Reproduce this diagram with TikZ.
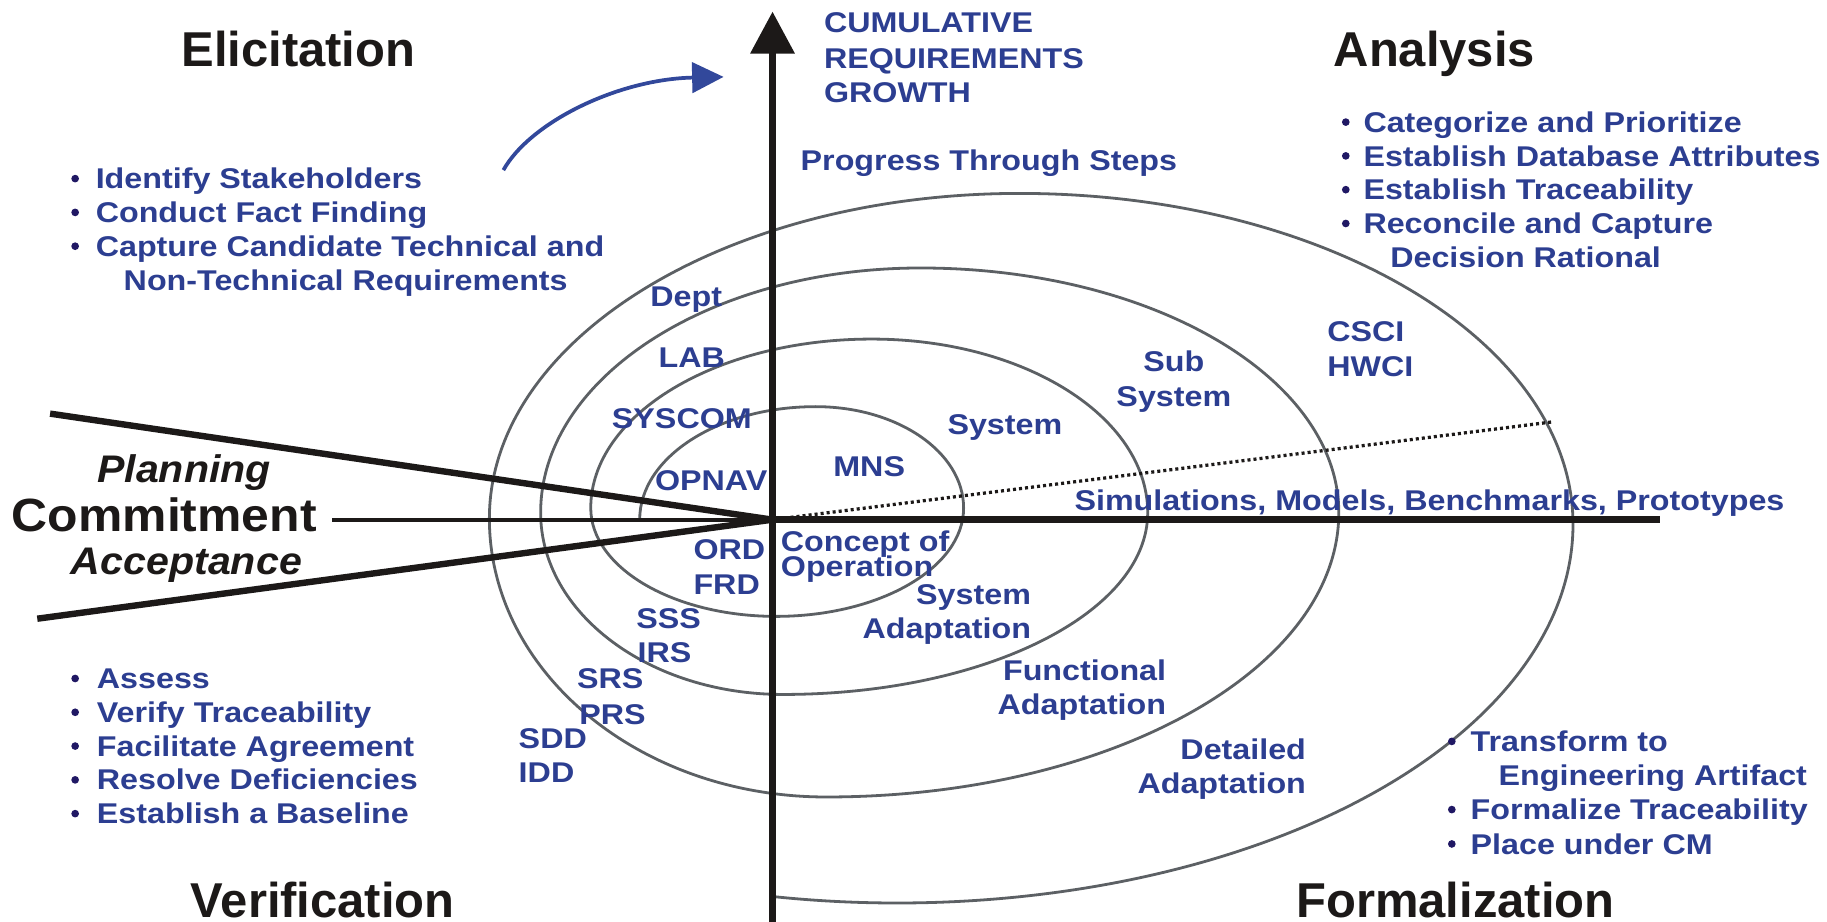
\documentclass[tikz,border=0pt]{standalone}
\usepackage{fontspec}
\setmainfont{Liberation Sans}
\newfontfamily\widesans{Liberation Sans}[FakeStretch=1.13]
\newfontfamily\semiwide{Liberation Sans}[FakeStretch=1.07]
\usetikzlibrary{arrows.meta}

\definecolor{txtblue}{RGB}{44,62,145}
\definecolor{dotblue}{RGB}{32,24,100}
\definecolor{ink}{RGB}{28,25,24}
\definecolor{curvegray}{RGB}{92,96,100}
\definecolor{arrblue}{RGB}{50,72,155}

\tikzset{
  bt/.style={text=txtblue, font=\widesans\bfseries\fontsize{24.5}{29}\selectfont,
             inner sep=0pt, anchor=base west},
  btr/.style={bt, anchor=base east},
  hdr/.style={text=ink, font=\bfseries\fontsize{42}{48}\selectfont,
              inner sep=0pt, anchor=base},
  side/.style={text=ink, font=\semiwide\bfseries\itshape\fontsize{33}{38}\selectfont,
               inner sep=0pt, anchor=base},
  bigside/.style={text=ink, font=\semiwide\bfseries\fontsize{40}{46}\selectfont,
                  inner sep=0pt, anchor=base west},
  spiral/.style={draw=curvegray, line width=2.4pt},
  axis/.style={draw=ink, line width=5.5pt},
  thinaxis/.style={draw=ink, line width=3.5pt},
  trend/.style={draw=ink, line width=2.8pt, dash pattern=on 2.6pt off 2.6pt},
  bullet/.style={fill=dotblue},
  growth/.style={draw=arrblue, line width=3.2pt, -{Triangle[length=27pt,width=26pt]}}
}

\begin{document}
\begin{tikzpicture}[x=1pt,y=-1pt]
\useasboundingbox (0,0) rectangle (1568,791);
\fill[white] (0,0) rectangle (1568,791);

% key points of the axes
\coordinate (ctr) at (663,446);
\coordinate (ytop) at (663,10);
\coordinate (ybot) at (663,791);
\coordinate (xleft) at (285,446);
\coordinate (xright) at (1425,446);
\coordinate (upleft) at (43,355);
\coordinate (lowleft) at (32,531);
\coordinate (trendend) at (1333,362);
\coordinate (arrS) at (432,146);
\coordinate (arrE) at (621,66);

% the growth spiral, one quarter ellipse after another
\draw[spiral] (549,446)
  arc[start angle=180, end angle=270, x radius=151, y radius=97]
  arc[start angle=270, end angle=360, x radius=127, y radius=87]
  arc[start angle=0,   end angle=90,  x radius=161, y radius=93]
  arc[start angle=90,  end angle=180, x radius=159, y radius=93]
  arc[start angle=180, end angle=270, x radius=241, y radius=145]
  arc[start angle=270, end angle=360, x radius=237, y radius=149]
  arc[start angle=0,   end angle=90,  x radius=313, y radius=156]
  arc[start angle=90,  end angle=180, x radius=208, y radius=156]
  arc[start angle=180, end angle=270, x radius=326, y radius=210]
  arc[start angle=270, end angle=360, x radius=359, y radius=210]
  arc[start angle=0,   end angle=90,  x radius=440, y radius=244]
  arc[start angle=90,  end angle=180, x radius=289, y radius=239]
  arc[start angle=180, end angle=270, x radius=455, y radius=279]
  arc[start angle=270, end angle=360, x radius=475, y radius=284]
  arc[start angle=0,   end angle=100.6, x radius=580, y radius=325];

% axes and wedge
\draw[trend] (ctr) -- (trendend);
\draw[thinaxis] (xleft) -- (ctr);
\draw[axis] (ctr) -- (xright);
\draw[axis] (upleft) -- (ctr);
\draw[axis] (lowleft) -- (ctr);
\draw[axis, -{Triangle[length=36pt,width=37pt]}] (ybot) -- (ytop);

% curved growth arrow
\draw[growth] (arrS) .. controls (455,105) and (530,68) .. (arrE);

% quadrant titles
\node[hdr] (elic) at (256,57) {Elicitation};
\node[hdr] (anal) at (1231,57) {Analysis};
\node[hdr] (verif) at (277,787) {Verification};
\node[hdr] (formal) at (1249,787) {Formalization};

% left-hand labels
\node[side] (plan) at (158,414) {Planning};
\node[bigside] (commit) at (10,456) {Commitment};
\node[side] (accept) at (160,493) {Acceptance};

% vertical axis caption
\node[bt] (cum1) at (707,28) {CUMULATIVE};
\node[bt] (cum2) at (707,58.5) {REQUIREMENTS};
\node[bt] (cum3) at (707,88) {GROWTH};
\node[bt] (prog) at (687,146) {Progress Through Steps};

% elicitation activities
\foreach \y in {162,191,220} \fill[bullet] (64.5,\y-8.7) circle (3.3);
\node[bt] (e1) at (82,162) {Identify Stakeholders};
\node[bt] (e2) at (82,191) {Conduct Fact Finding};
\node[bt] (e3) at (82,220) {Capture Candidate Technical and};
\node[bt] (e4) at (106,249) {Non-Technical Requirements};

% analysis activities
\foreach \y in {113.5,142.5,171.5,200.5} \fill[bullet] (1155,\y-8.7) circle (3.3);
\node[bt] (a1) at (1170,113.5) {Categorize and Prioritize};
\node[bt] (a2) at (1170,142.5) {Establish Database Attributes};
\node[bt] (a3) at (1170,171.5) {Establish Traceability};
\node[bt] (a4) at (1170,200.5) {Reconcile and Capture};
\node[bt] (a5) at (1193,229.5) {Decision Rational};

% verification activities
\foreach \y in {591,620,649,678,707} \fill[bullet] (64.5,\y-8.7) circle (3.3);
\node[bt] (v1) at (83,591) {Assess};
\node[bt] (v2) at (83,620) {Verify Traceability};
\node[bt] (v3) at (83,649) {Facilitate Agreement};
\node[bt] (v4) at (83,678) {Resolve Deficiencies};
\node[bt] (v5) at (83,707) {Establish a Baseline};

% formalization activities
\foreach \y in {645,703.5,733} \fill[bullet] (1246,\y-8.7) circle (3.3);
\node[bt] (f1) at (1262,645) {Transform to};
\node[bt] (f2) at (1286,674.5) {Engineering Artifact};
\node[bt] (f3) at (1262,703.5) {Formalize Traceability};
\node[bt] (f4) at (1262,733) {Place under CM};

% labels along the spiral
\node[bt] (dept) at (558,263) {Dept};
\node[bt] (lab) at (565,315) {LAB};
\node[bt] (syscom) at (525,368) {SYSCOM};
\node[bt] (opnav) at (562,421) {OPNAV};
\node[bt] (mns) at (715,409) {MNS};
\node[bt] (sys1) at (813,373) {System};
\node[bt] (conc1) at (670,473.5) {Concept of};
\node[bt] (conc2) at (670,495) {Operation};
\node[bt] (ord) at (595,480) {ORD};
\node[bt] (frd) at (595,510) {FRD};
\node[bt] (sss) at (546,539) {SSS};
\node[bt] (irs) at (547,569) {IRS};
\node[bt] (srs) at (495,591) {SRS};
\node[bt] (prs) at (497,621.5) {PRS};
\node[bt] (sdd) at (445,642) {SDD};
\node[bt] (idd) at (445,671.5) {IDD};
\node[bt] (sub1) at (981,319) {Sub};
\node[bt] (sub2) at (958,348.5) {System};
\node[bt] (csci) at (1139,293) {CSCI};
\node[bt] (hwci) at (1139,323) {HWCI};
\node[btr] (sa1) at (885,519) {System};
\node[btr] (sa2) at (885,548) {Adaptation};
\node[btr] (fa1) at (1001,584) {Functional};
\node[btr] (fa2) at (1001,613) {Adaptation};
\node[btr] (da1) at (1121,652) {Detailed};
\node[btr] (da2) at (1121,681) {Adaptation};
\node[bt] (sim) at (922,438) {Simulations, Models, Benchmarks, Prototypes};
\end{tikzpicture}
\end{document}
